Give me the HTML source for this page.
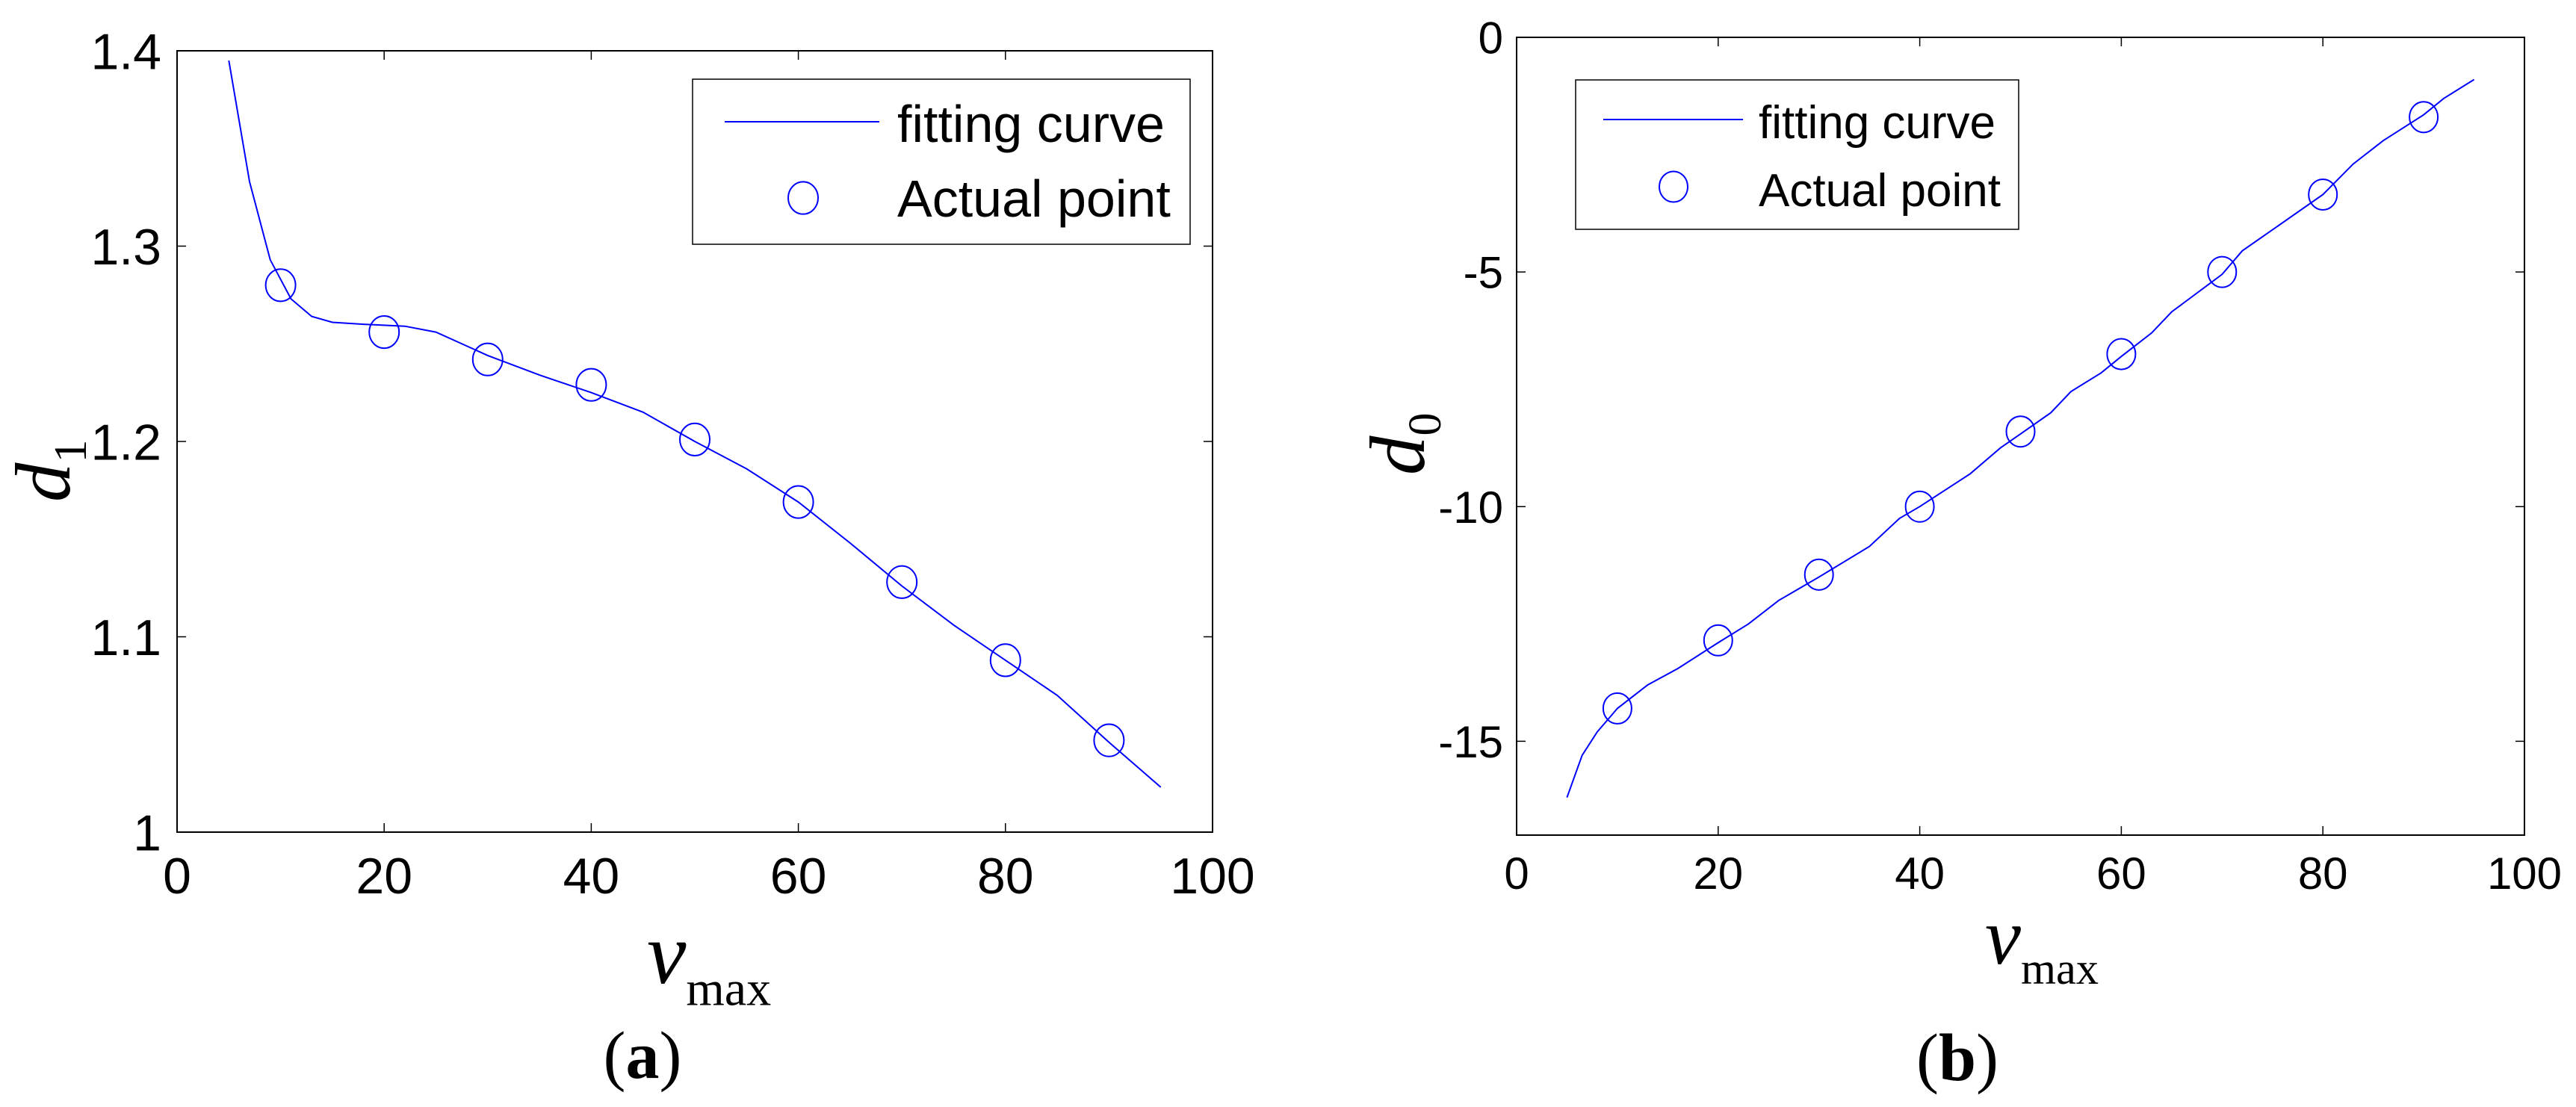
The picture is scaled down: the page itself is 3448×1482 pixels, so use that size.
<!DOCTYPE html>
<html><head><meta charset="utf-8">
<style>
html,body{margin:0;padding:0;background:#fff;}
svg{display:block;}
</style></head>
<body>
<svg id="fig" width="3448" height="1482" viewBox="0 0 3448 1482" xmlns="http://www.w3.org/2000/svg">
  <g id="panelA"></g>
  <g id="panelB"></g>
</svg>
<script>
// Panel (a) data
const aPointX = [10, 20, 30, 40, 50, 60, 70, 80, 90];
const aPointY = [1.280, 1.256, 1.242, 1.229, 1.201, 1.169, 1.128, 1.088, 1.047];
const aCurveX = [5, 7, 9, 11, 13, 15, 18, 22, 25, 30, 35, 40, 45, 50, 55, 60, 65, 70, 75, 80, 85, 90, 95];
const aCurveY = [1.395, 1.333, 1.293, 1.273, 1.264, 1.261, 1.260, 1.259, 1.256, 1.244, 1.234, 1.225, 1.215, 1.200, 1.186, 1.169, 1.148, 1.126, 1.106, 1.088, 1.070, 1.046, 1.023];
const aYTicks = [1.0, 1.1, 1.2, 1.3, 1.4];
const aYTickLabels = ["1", "1.1", "1.2", "1.3", "1.4"];
// Panel (b) data
const bPointX = [10, 20, 30, 40, 50, 60, 70, 80, 90];
const bPointY = [-14.3, -12.85, -11.45, -10.0, -8.4, -6.75, -5.0, -3.35, -1.7];
const bCurveX = [5, 6.5, 8, 10, 13, 16, 20, 23, 26, 30, 35, 38, 40, 45, 48, 50, 53, 55, 58, 60, 63, 65, 70, 72, 75, 80, 83, 86, 90, 92, 95];
const bCurveY = [-16.2, -15.3, -14.8, -14.3, -13.8, -13.45, -12.9, -12.5, -12.0, -11.5, -10.85, -10.25, -10.0, -9.3, -8.75, -8.45, -8.0, -7.55, -7.15, -6.8, -6.3, -5.85, -5.05, -4.55, -4.1, -3.35, -2.7, -2.2, -1.65, -1.3, -0.9];
const bYTicks = [-15, -10, -5, 0];
const bYTickLabels = ["-15", "-10", "-5", "0"];
// shared x ticks
const xTicks = [0, 20, 40, 60, 80, 100];
const xTickLabels = ["0", "20", "40", "60", "80", "100"];

const NS = "http://www.w3.org/2000/svg";
function mk(parent, tag, attrs, text) {
  const e = document.createElementNS(NS, tag);
  for (const k in attrs) e.setAttribute(k, attrs[k]);
  if (text !== undefined) e.textContent = text;
  parent.appendChild(e);
  return e;
}

function drawPanel(g, cfg) {
  const L = cfg.L, R = cfg.R, T = cfg.T, B = cfg.B;
  const sx = v => L + (v - cfg.xmin) / (cfg.xmax - cfg.xmin) * (R - L);
  const sy = v => B - (v - cfg.ymin) / (cfg.ymax - cfg.ymin) * (B - T);
  const tl = 12;

  const frame = mk(g, "rect", {x: L, y: T, width: R - L, height: B - T, fill: "none", stroke: "#000", "stroke-width": 2});
  
  

  xTicks.forEach((t, i) => {
    const x = sx(t);
    const tk = mk(g, "path", {d: `M${x},${B}V${B - tl}M${x},${T}V${T + tl}`, stroke: "#000", "stroke-width": 1.5});
    
    
    const lb = mk(g, "text", {x: x, y: cfg.xLabelBase, "text-anchor": "middle", "font-family": "Liberation Sans, sans-serif", "font-size": cfg.tickFont}, xTickLabels[i]);
    
    
  });
  cfg.yTicks.forEach((t, i) => {
    const y = sy(t);
    const tk = mk(g, "path", {d: `M${L},${y}H${L + tl}M${R},${y}H${R - tl}`, stroke: "#000", "stroke-width": 1.5});
    
    
    const lb = mk(g, "text", {x: cfg.yLabelRight, y: y + cfg.tickFont * 0.36, "text-anchor": "end", "font-family": "Liberation Sans, sans-serif", "font-size": cfg.tickFont}, cfg.yTickLabels[i]);
    
    
  });

  let d = "";
  cfg.curveX.forEach((x, i) => { d += (i ? "L" : "M") + sx(x).toFixed(1) + "," + sy(cfg.curveY[i]).toFixed(1); });
  const curve = mk(g, "path", {d: d, fill: "none", stroke: "#0000ff", "stroke-width": 2});
  
  

  cfg.pointX.forEach((x, i) => {
    const c = mk(g, "ellipse", {cx: sx(x), cy: sy(cfg.pointY[i]), rx: cfg.mr, ry: cfg.mr * 1.08, fill: "none", stroke: "#0000ff", "stroke-width": 2});
    
    
  });

  // legend
  const lg = cfg.leg;
  const lgG = mk(g, "g", {});
  
  
  mk(lgG, "rect", {x: lg.x, y: lg.y, width: lg.w, height: lg.h, fill: "#fff", stroke: "#000", "stroke-width": 1.5});
  const ll = mk(lgG, "line", {x1: lg.lx1, x2: lg.lx2, y1: lg.ly1, y2: lg.ly1, stroke: "#0000ff", "stroke-width": 2});
  
  
  const t1 = mk(lgG, "text", {x: lg.tx, y: lg.b1, "font-family": "Liberation Sans, sans-serif", "font-size": lg.fs}, "fitting curve");
  
  
  const lc = mk(lgG, "ellipse", {cx: lg.cx, cy: lg.cy, rx: cfg.mr, ry: cfg.mr * 1.08, fill: "none", stroke: "#0000ff", "stroke-width": 2});
  
  
  const t2 = mk(lgG, "text", {x: lg.tx, y: lg.b2, "font-family": "Liberation Sans, sans-serif", "font-size": lg.fs}, "Actual point");
  
  

  // y axis title (rotated)
  const yt = mk(g, "text", {transform: `translate(${cfg.ytX},${cfg.ytY}) rotate(-90)`, "font-family": "Liberation Serif, serif", "font-style": "italic", "font-size": 105});
  
  
  mk(yt, "tspan", {}, "d");
  mk(yt, "tspan", {dy: 22, "font-size": 62, "font-style": "normal"}, cfg.ySub);

  // x axis title
  const xt = mk(g, "text", {x: cfg.xtX, y: cfg.xtY, "font-family": "Liberation Serif, serif", "font-style": "italic", "font-size": cfg.xtFs});
  
  
  mk(xt, "tspan", {}, "v");
  mk(xt, "tspan", {dy: cfg.xtFs * 0.25, "font-size": cfg.xtFs * 0.56, "font-style": "normal"}, "max");

  // caption
  const cap = mk(g, "text", {x: cfg.capX, y: cfg.capY, "text-anchor": "middle", "font-family": "Liberation Serif, serif", "font-size": 90});
  
  
  mk(cap, "tspan", {}, "(");
  mk(cap, "tspan", {"font-weight": "bold"}, cfg.capLetter);
  mk(cap, "tspan", {}, ")");
}

drawPanel(document.getElementById("panelA"), {
  L: 237, R: 1623, T: 68, B: 1114, xmin: 0, xmax: 100, ymin: 1.0, ymax: 1.4,
  yTicks: aYTicks, yTickLabels: aYTickLabels,
  curveX: aCurveX, curveY: aCurveY, pointX: aPointX, pointY: aPointY,
  tickFont: 68, xLabelBase: 1196, yLabelRight: 216, mr: 20,
  leg: {x: 927, y: 106, w: 666, h: 221, lx1: 970, lx2: 1177, ly1: 163, tx: 1201, b1: 190, b2: 290, cx: 1075, cy: 265, fs: 70},
  ytX: 93, ytY: 672, ySub: "1",
  xtX: 866, xtY: 1316, xtFs: 118,
  capX: 860, capY: 1443, capLetter: "a"
});
drawPanel(document.getElementById("panelB"), {
  L: 2030, R: 3379, T: 50, B: 1118, xmin: 0, xmax: 100, ymin: -17, ymax: 0,
  yTicks: bYTicks, yTickLabels: bYTickLabels,
  curveX: bCurveX, curveY: bCurveY, pointX: bPointX, pointY: bPointY,
  tickFont: 60, xLabelBase: 1190, yLabelRight: 2012, mr: 19,
  leg: {x: 2109, y: 107, w: 593, h: 200, lx1: 2146, lx2: 2333, ly1: 160, tx: 2354, b1: 185, b2: 276, cx: 2240, cy: 250, fs: 62},
  ytX: 1906, ytY: 636, ySub: "0",
  xtX: 2657, xtY: 1290, xtFs: 108,
  capX: 2620, capY: 1446, capLetter: "b"
});
</script>
</body></html>
